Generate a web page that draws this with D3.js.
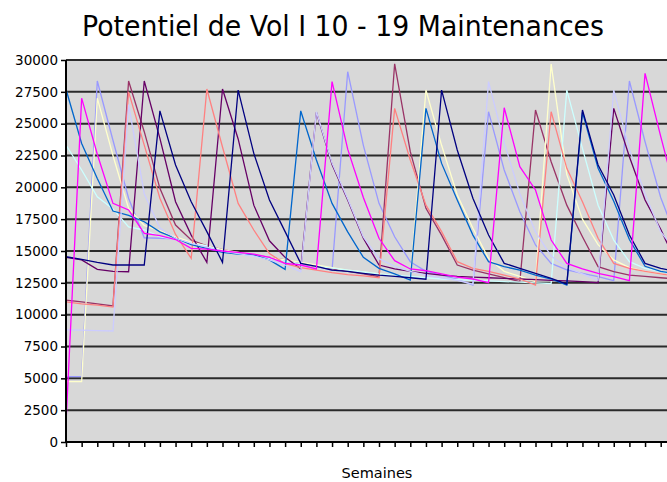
<!DOCTYPE html>
<html>
<head>
<meta charset="utf-8">
<script src="https://cdn.jsdelivr.net/npm/d3@7"></script>
<style>
  html, body { margin: 0; padding: 0; background: #ffffff; }
  svg { display: block; }
</style>
</head>
<body>
<div id="chart"></div>
<script>
// Flight potential (hours) per aircraft, week by week, I 10 to I 19
const weeks = d3.range(0, 40);

const potI10 = [5130, 5130, 28350, 23700, 19140, 16040, 16000, 15950, 15700, 15300, 15000, 14850, 14700, 14500, 14200, 14000, 13800, 13500, 29080, 23300, 18740, 16120, 14160, 13400, 13100, 12800, 12330, 25940, 21360, 18090, 15470, 14030, 13510, 13250, 12980, 12670, 28350, 23580, 19200, 16000];
const potI11 = [11150, 11000, 10850, 10680, 28350, 24370, 19920, 17040, 15860, 15400, 15100, 14900, 14700, 14500, 14300, 14000, 13800, 13600, 13400, 13200, 12980, 29700, 22800, 18350, 16250, 13900, 13500, 13200, 12900, 12590, 26070, 22010, 18600, 16120, 13770, 13380, 13110, 13000, 12900, 12800];
const potI12 = [4740, 4740, 27000, 22500, 18350, 17000, 16600, 16100, 15700, 15400, 15100, 14900, 14700, 14500, 14300, 14100, 13900, 13700, 13500, 13350, 13200, 13000, 12850, 27640, 23300, 19400, 16780, 14420, 13400, 13000, 12590, 29680, 21000, 17500, 15500, 14300, 13700, 13400, 13200, 13000];
const potI13 = [23320, 21360, 19260, 18300, 16900, 16650, 16120, 15900, 15600, 15400, 15000, 14800, 14600, 14400, 14200, 14000, 13800, 13650, 13500, 13350, 13200, 13100, 13000, 12900, 12800, 12750, 12700, 12650, 12600, 12550, 12500, 12450, 27640, 23060, 18600, 15860, 14160, 13640, 13380, 13200];
const potI14 = [14500, 14300, 13560, 13400, 13370, 28350, 23850, 18870, 16250, 14110, 27720, 23800, 18600, 15800, 14500, 13600, 25900, 21800, 19000, 16000, 13900, 13600, 13400, 13250, 13100, 13000, 12950, 12900, 12850, 12800, 12750, 12700, 12650, 12600, 12510, 26200, 22400, 19000, 16700, 14100];
const potI15 = [11000, 10850, 10750, 10600, 27500, 23320, 19140, 16300, 14420, 27720, 23170, 18740, 16650, 14800, 14000, 13700, 13500, 13300, 13150, 13050, 12900, 26200, 22150, 18600, 16520, 14160, 13640, 13400, 13100, 12800, 12330, 25940, 21490, 18870, 16000, 14030, 13640, 13400, 13200, 13000];
const potI16 = [27700, 23450, 20700, 18140, 17800, 17300, 16500, 16000, 15500, 15200, 14900, 14750, 14700, 14300, 13560, 26000, 22150, 18740, 16500, 14500, 13640, 13200, 12720, 26200, 21880, 19000, 16250, 14160, 13770, 13500, 13100, 12800, 12330, 25900, 21500, 18900, 15900, 13800, 13400, 13200];
const potI17 = [8800, 8780, 8750, 8720, 26500, 19500, 16800, 16000, 15600, 15300, 15000, 14800, 14600, 14300, 13900, 13370, 25940, 21900, 19100, 16100, 14400, 13800, 13400, 13100, 12900, 12700, 12400, 28300, 23500, 19500, 16500, 14600, 13700, 13200, 12700, 27640, 23000, 19500, 16500, 15000];
const potI18 = [14550, 14350, 14100, 13900, 13900, 13900, 26000, 21750, 18870, 16520, 14110, 27640, 22670, 19000, 16520, 14030, 13800, 13500, 13400, 13250, 13100, 13000, 12900, 12780, 27640, 22930, 19140, 16250, 14030, 13640, 13250, 12850, 12400, 26070, 21750, 19400, 16250, 14030, 13640, 13400];
const potI19 = [1470, 27000, 22600, 18740, 18220, 16390, 16200, 15900, 15210, 15150, 15000, 14900, 14750, 14500, 14030, 13900, 13590, 28300, 23000, 19200, 16000, 14240, 13590, 13450, 13200, 12950, 12800, 12510, 26250, 21620, 19790, 15860, 14030, 13590, 13250, 12980, 12670, 28950, 24000, 19300];

const seriesNames = ["I 10", "I 11", "I 12", "I 13", "I 14", "I 15", "I 16", "I 17", "I 18", "I 19"];
const seriesValues = [potI10, potI11, potI12, potI13, potI14, potI15, potI16, potI17, potI18, potI19];
const seriesColors = ["#9999FF", "#993366", "#FFFFCC", "#CCFFFF", "#660066", "#FF8080", "#0066CC", "#CCCCFF", "#000080", "#FF00FF"];

const yTicks = [0, 2500, 5000, 7500, 10000, 12500, 15000, 17500, 20000, 22500, 25000, 27500, 30000];
const chartTitle = "Potentiel de Vol I 10 - 19 Maintenances";
const xTitle = "Semaines";

const W = 667, H = 482;
const plot = { left: 66, right: 667, top: 60, bottom: 442 };
const weekStep = 15.65;

const svg = d3.select("#chart").append("svg")
  .attr("width", W).attr("height", H);

const x = d3.scaleLinear()
  .domain([0, weeks.length - 1])
  .range([plot.left, plot.left + (weeks.length - 1) * weekStep]);
const y = d3.scaleLinear().domain([0, 30000]).range([plot.bottom, plot.top]);

// plot background
svg.append("rect")
  .attr("x", plot.left).attr("y", plot.top)
  .attr("width", plot.right - plot.left).attr("height", plot.bottom - plot.top)
  .attr("fill", "#D8D8D8");

svg.append("defs").append("clipPath").attr("id", "plotClip")
  .append("rect")
  .attr("x", plot.left).attr("y", plot.top - 5)
  .attr("width", plot.right - plot.left).attr("height", plot.bottom - plot.top + 10);

// horizontal gridlines
svg.append("g")
  .selectAll("line")
  .data(yTicks.filter(d => d > 0))
  .join("line")
  .attr("x1", plot.left).attr("x2", plot.right)
  .attr("y1", d => y(d)).attr("y2", d => y(d))
  .attr("stroke", "#2a2a2a")
  .attr("stroke-width", 2);

// y axis
const yAxis = d3.axisLeft(y).tickValues(yTicks).tickSize(5).tickPadding(3).tickFormat(d3.format("d"));
const gy = svg.append("g").attr("transform", `translate(${plot.left},0)`).call(yAxis);
gy.select(".domain").remove();
gy.selectAll(".tick line").attr("stroke", "#000").attr("stroke-width", 1.5);
gy.selectAll(".tick text")
  .attr("font-family", "DejaVu Sans, sans-serif")
  .attr("font-size", 13.5)
  .attr("fill", "#000");

// x axis: one tick per week, no labels
const visibleWeeks = weeks.filter(w => x(w) <= plot.right);
const xAxis = d3.axisBottom(x).tickValues(visibleWeeks).tickSize(5).tickFormat("");
const gx = svg.append("g").attr("transform", `translate(0,${plot.bottom})`).call(xAxis);
gx.select(".domain").remove();
gx.selectAll(".tick line").attr("stroke", "#000").attr("stroke-width", 1.5);

// series lines
const line = d3.line()
  .x((d, i) => x(weeks[i]))
  .y(d => y(d));

svg.append("g")
  .attr("clip-path", "url(#plotClip)")
  .selectAll("path")
  .data(seriesValues.map((v, k) => ({ name: seriesNames[k], values: v, color: seriesColors[k] })))
  .join("path")
  .attr("d", d => line(d.values))
  .attr("fill", "none")
  .attr("stroke", d => d.color)
  .attr("stroke-width", 1.3)
  .attr("stroke-linejoin", "miter");

// axis lines
svg.append("line")
  .attr("x1", plot.left).attr("x2", plot.left)
  .attr("y1", plot.top).attr("y2", plot.bottom + 1)
  .attr("stroke", "#000").attr("stroke-width", 2);
svg.append("line")
  .attr("x1", plot.left - 1).attr("x2", plot.right)
  .attr("y1", plot.bottom).attr("y2", plot.bottom)
  .attr("stroke", "#000").attr("stroke-width", 2);

// titles
svg.append("text")
  .attr("x", 343).attr("y", 36)
  .attr("text-anchor", "middle")
  .attr("font-family", "DejaVu Sans, sans-serif")
  .attr("font-size", 29)
  .attr("textLength", 522)
  .attr("lengthAdjust", "spacingAndGlyphs")
  .attr("fill", "#000")
  .text(chartTitle);

svg.append("text")
  .attr("x", 377).attr("y", 478)
  .attr("text-anchor", "middle")
  .attr("font-family", "DejaVu Sans, sans-serif")
  .attr("font-size", 14.5)
  .attr("fill", "#000")
  .text(xTitle);
</script>
</body>
</html>
